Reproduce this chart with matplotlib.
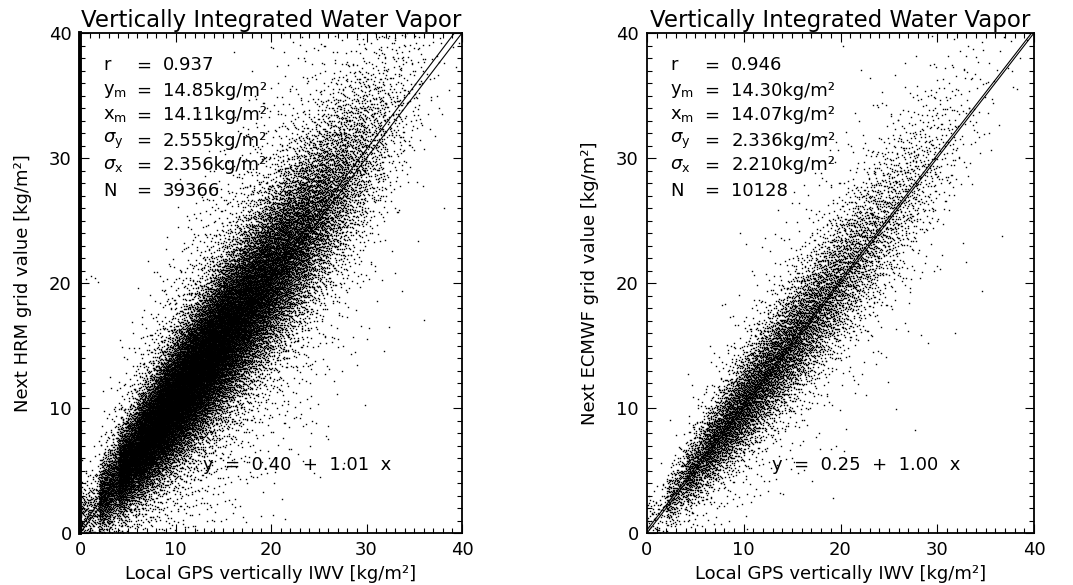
import math
import numpy as np
import matplotlib
matplotlib.use("Agg")
import matplotlib.pyplot as plt
from matplotlib.ticker import MultipleLocator

plt.rcParams['font.family'] = ['DejaVu Sans']
plt.rcParams['mathtext.fontset'] = 'dejavusans'

# ---- data ----
title = "Vertically Integrated Water Vapor"
xlabel = "Local GPS vertically IWV [kg/m²]"
ylabels = ["Next HRM grid value [kg/m²]", "Next ECMWF grid value [kg/m²]"]

stat_names = ["r", "y$_\\mathregular{m}$", "x$_\\mathregular{m}$",
              "$\\sigma_\\mathregular{y}$", "$\\sigma_\\mathregular{x}$", "N"]
stats_hrm = ["0.937", "14.85kg/m²", "14.11kg/m²", "2.555kg/m²", "2.356kg/m²", "39366"]
stats_ecmwf = ["0.946", "14.30kg/m²", "14.07kg/m²", "2.336kg/m²", "2.210kg/m²", "10128"]

fit_hrm = (0.40, 1.01)      # intercept, slope
fit_ecmwf = (0.25, 1.00)

# point cloud, summarised per 2 kg/m² bin of GPS IWV (estimated from the plot)
bin_edges = np.arange(0, 42, 2)
hrm_counts = [300, 1200, 2450, 3500, 4200, 4400, 4300, 4000, 3400, 2900,
              2400, 1900, 1400, 1000, 650, 380, 190, 90, 30, 10]
hrm_ymid = [1.5, 3.5, 5.5, 7.5, 9.6, 11.6, 13.6, 15.7, 17.7, 19.7,
            21.7, 23.7, 25.8, 27.8, 29.8, 31.8, 33.8, 35.8, 37.8, 39.8]
hrm_ysd = [1.3, 1.6, 1.8, 2.0, 2.2, 2.4, 2.6, 2.8, 3.0, 3.1,
           3.3, 3.4, 3.5, 3.6, 3.7, 3.7, 3.7, 3.7, 3.7, 3.7]

ecmwf_counts = [80, 330, 650, 900, 1080, 1130, 1100, 1030, 880, 750,
                620, 490, 360, 260, 170, 100, 50, 25, 10, 4]
ecmwf_ymid = [1.3, 3.3, 5.3, 7.3, 9.3, 11.3, 13.3, 15.3, 17.3, 19.3,
              21.3, 23.3, 25.3, 27.3, 29.3, 31.3, 33.3, 35.3, 37.3, 39.3]
ecmwf_ysd = [1.0, 1.2, 1.4, 1.6, 1.8, 2.0, 2.1, 2.3, 2.4, 2.6,
             2.7, 2.9, 3.0, 3.1, 3.2, 3.3, 3.3, 3.3, 3.3, 3.3]

# a few stray points visible in the left panel
hrm_stray_x = [0.6, 1.1, 1.6, 1.9, 24.1, 24.2, 24.1, 24.3, 24.2, 24.1, 21.5, 23.3, 22.4]
hrm_stray_y = [20.3, 20.6, 20.4, 20.1, 12.0, 11.0, 10.0, 9.0, 8.0, 7.0, 8.8, 8.6, 9.2]


# ---- helpers to lay the points out deterministically inside each bin ----
_z = np.linspace(-5, 5, 4001)
_cdf = 0.5 * (1 + np.vectorize(math.erf)(_z / math.sqrt(2)))


def vdc(n, base, start=1):
    i = np.arange(start, start + n)
    out = np.zeros(n)
    f = 1.0 / base
    while np.any(i > 0):
        out += f * (i % base)
        i = i // base
        f /= base
    return out


def cloud(counts, ymid, ysd, start):
    mids = 0.5 * (bin_edges[:-1] + bin_edges[1:])
    xs, ys = [], []
    for k, n in enumerate(counts):
        lo, hi = bin_edges[k], bin_edges[k + 1]
        s = start + 7919 * k
        x = lo + (hi - lo) * vdc(n, 2, s)
        u = np.clip(vdc(n, 3, s), 1e-4, 1 - 1e-4)
        wide = vdc(n, 5, s) < 0.12
        sd = np.interp(x, mids, ysd) * np.where(wide, 2.3, 1.0)
        y = np.interp(x, mids, ymid) + sd * np.interp(u, _cdf, _z)
        xs.append(x)
        ys.append(y)
    return np.concatenate(xs), np.concatenate(ys)


hx, hy = cloud(hrm_counts, hrm_ymid, hrm_ysd, 11)
hx = np.concatenate([hx, hrm_stray_x])
hy = np.concatenate([hy, hrm_stray_y])
ex, ey = cloud(ecmwf_counts, ecmwf_ymid, ecmwf_ysd, 101)

fig = plt.figure(figsize=(10.73, 5.85), dpi=100)
ax1 = fig.add_axes([80 / 1073, 52 / 585, 382 / 1073, 500 / 585])
ax2 = fig.add_axes([647 / 1073, 52 / 585, 387 / 1073, 500 / 585])

panels = [(ax1, hx, hy, stats_hrm, fit_hrm, ylabels[0]),
          (ax2, ex, ey, stats_ecmwf, fit_ecmwf, ylabels[1])]

for ax, px, py, stats, fit, ylab in panels:
    xx = np.array([0.0, 40.0])
    ax.plot(xx, xx, color='black', lw=0.8, zorder=1)
    ax.plot(xx, fit[0] + fit[1] * xx, color='black', lw=0.8, zorder=1)
    ax.plot(px, py, linestyle='none', marker='s', ms=1.0, mew=0,
            color='black', zorder=2)

    ax.set_xlim(0, 40)
    ax.set_ylim(0, 40)
    ax.xaxis.set_major_locator(MultipleLocator(10))
    ax.yaxis.set_major_locator(MultipleLocator(10))
    ax.xaxis.set_minor_locator(MultipleLocator(1))
    ax.yaxis.set_minor_locator(MultipleLocator(1))
    ax.tick_params(which='both', direction='in', top=True, right=True,
                   width=0.8, labelsize=13, pad=6)
    ax.tick_params(which='major', length=6.5)
    ax.tick_params(which='minor', length=3.5)
    for sp in ax.spines.values():
        sp.set_linewidth(1.3)

    ax.set_title(title, fontsize=16.5, pad=4)
    ax.set_xlabel(xlabel, fontsize=13, labelpad=4)
    ax.set_ylabel(ylab, fontsize=13, labelpad=12)

    for i, (name, val) in enumerate(zip(stat_names, stats)):
        yy = 37.4 - 2.0 * i
        ax.text(2.4, yy, name, fontsize=13, va='center', zorder=3)
        ax.text(5.9, yy, "=", fontsize=13, va='center', zorder=3)
        ax.text(8.7, yy, val, fontsize=13, va='center', zorder=3)

    ax.text(12.9, 5.4, "y  =  %.2f  +  %.2f  x" % fit, fontsize=13,
            va='center', zorder=3)

ax1.spines['left'].set_linewidth(2.8)

fig.savefig("out.png", dpi=100)
